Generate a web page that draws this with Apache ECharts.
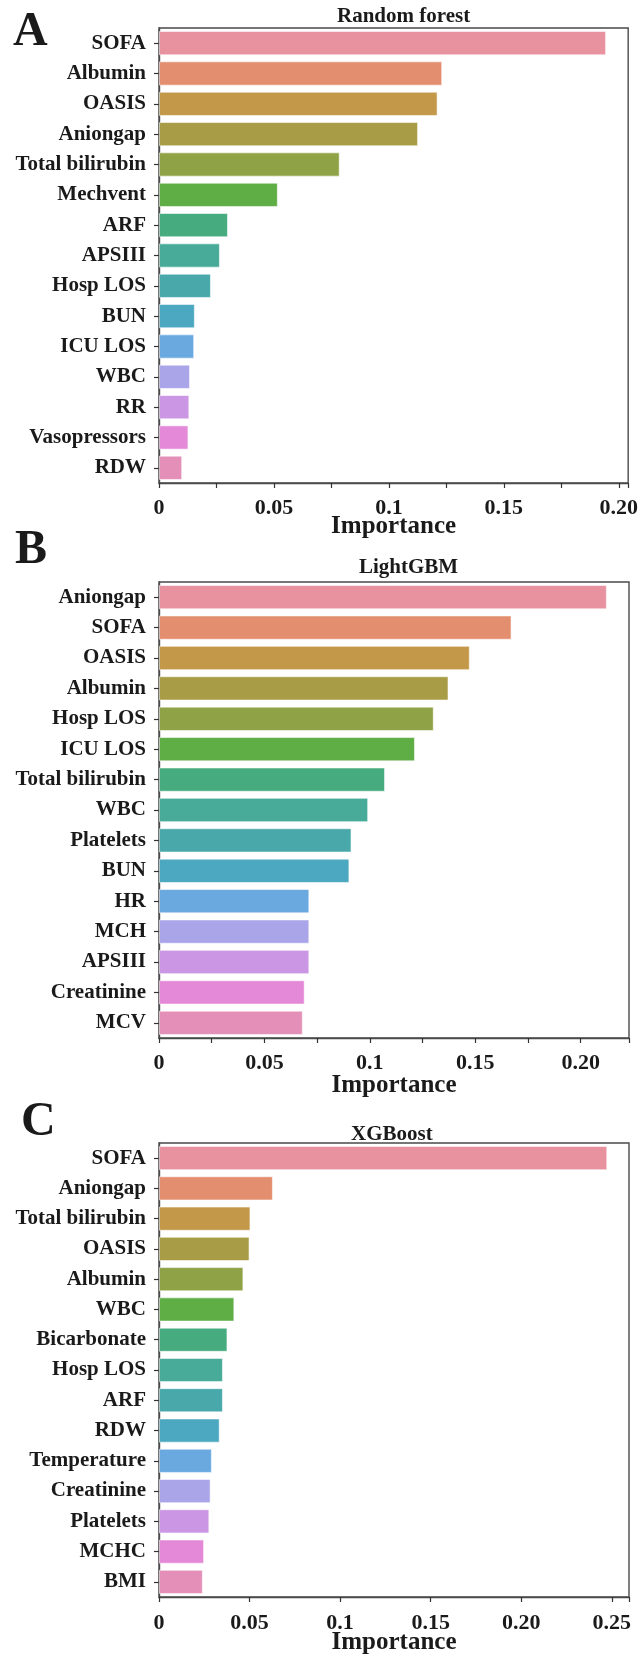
<!DOCTYPE html>
<html>
<head>
<meta charset="utf-8">
<script src="https://cdn.jsdelivr.net/npm/echarts@6/dist/echarts.min.js"></script>
<style>
html,body{margin:0;padding:0;background:#fff;}
#chart{width:641px;height:1656px;}
</style>
</head>
<body>
<div id="chart"></div>
<script>
// ---- Data ----
const catsA = ['SOFA','Albumin','OASIS','Aniongap','Total bilirubin','Mechvent','ARF','APSIII','Hosp LOS','BUN','ICU LOS','WBC','RR','Vasopressors','RDW'];
const valsA = [0.1945,0.1232,0.1212,0.1127,0.0786,0.0517,0.0300,0.0265,0.0226,0.0156,0.0153,0.0135,0.0132,0.0128,0.0101];

const catsB = ['Aniongap','SOFA','OASIS','Albumin','Hosp LOS','ICU LOS','Total bilirubin','WBC','Platelets','BUN','HR','MCH','APSIII','Creatinine','MCV'];
const valsB = [0.2124,0.1672,0.1474,0.1373,0.1303,0.1214,0.1072,0.0992,0.0913,0.0903,0.0713,0.0713,0.0713,0.0691,0.0682];

const catsC = ['SOFA','Aniongap','Total bilirubin','OASIS','Albumin','WBC','Bicarbonate','Hosp LOS','ARF','RDW','Temperature','Creatinine','Platelets','MCHC','BMI'];
const valsC = [0.2475,0.0629,0.0505,0.0500,0.0466,0.0416,0.0378,0.0353,0.0353,0.0335,0.0292,0.0285,0.0278,0.0249,0.0242];

const titles = ['Random forest','LightGBM','XGBoost'];
const panelLetters = ['A','B','C'];
const axisName = 'Importance';

const tickValsAB = [0,0.05,0.1,0.15,0.2];
const tickLabelsAB = ['0','0.05','0.1','0.15','0.20'];
const tickValsC = [0,0.05,0.1,0.15,0.2,0.25];
const tickLabelsC = ['0','0.05','0.1','0.15','0.20','0.25'];

const palette = ['#e8919f','#e38e6e','#c49849','#a99c47','#8fa245','#5fad45','#46ac80','#48aa98','#49a8aa','#4ba8c0','#6aa9e0','#aaa5e8','#cb97e4','#e488d8','#e48fb8'];

// ---- Layout ----
const FONT = "'Liberation Serif','Times New Roman',serif";
const panels = [
  {cats:catsA, vals:valsA, top:28, height:455, max:0.2041, interval:0.025, tv:tickValsAB, tl:tickLabelsAB, nameGap:31, labelMargin:14, titleLeft:337, titleTop:6, letterLeft:13, letterTop:9},
  {cats:catsB, vals:valsB, top:582, height:456, max:0.2229, interval:0.025, tv:tickValsAB, tl:tickLabelsAB, nameGap:35, labelMargin:14, titleLeft:359, titleTop:557, letterLeft:15, letterTop:527},
  {cats:catsC, vals:valsC, top:1143, height:457, max:0.2595, interval:0.05, tv:tickValsC, tl:tickLabelsC, nameGap:33, labelMargin:15, titleLeft:351, titleTop:1124, letterLeft:21, letterTop:1099}
];

function fmt(tv, tl){
  return function(v){
    for (let i=0;i<tv.length;i++){ if (Math.abs(v-tv[i])<1e-9) return tl[i]; }
    return '';
  };
}

const grid=[], xAxis=[], yAxis=[], series=[], title=[];
panels.forEach((p,i)=>{
  grid.push({left:159, right:12, top:p.top, height:p.height, show:true, borderColor:'#4a4a4a', borderWidth:1.4, backgroundColor:'transparent', containLabel:false});
  xAxis.push({
    type:'value', gridIndex:i, min:0, max:p.max, interval:p.interval,
    name:axisName, nameLocation:'middle', nameGap:p.nameGap, nameMoveOverlap:false,
    nameTextStyle:{fontFamily:FONT, fontWeight:'bold', fontSize:25, color:'#1a1a1a', verticalAlign:'top'},
    axisLine:{show:true, lineStyle:{color:'#4a4a4a', width:1.4}},
    axisTick:{show:true, length:5, lineStyle:{color:'#333', width:1.2}},
    axisLabel:{formatter:fmt(p.tv,p.tl), margin:p.labelMargin, fontFamily:FONT, fontWeight:'bold', fontSize:22, color:'#1a1a1a', showMaxLabel:true},
    splitLine:{show:false}
  });
  yAxis.push({
    type:'category', gridIndex:i, data:p.cats, inverse:true,
    axisLine:{show:true, lineStyle:{color:'#4a4a4a', width:1.4}},
    axisTick:{show:true, alignWithLabel:true, length:5, lineStyle:{color:'#333', width:1.2}},
    axisLabel:{margin:13, fontFamily:FONT, fontWeight:'bold', fontSize:21, color:'#1a1a1a'}
  });
  series.push({
    type:'bar', xAxisIndex:i, yAxisIndex:i, barCategoryGap:'20%',
    data:p.vals.map((v,k)=>({value:v, itemStyle:{color:palette[k % palette.length]}})),
    itemStyle:{borderColor:'rgba(255,255,255,0.55)', borderWidth:1},
    silent:true, animation:false
  });
  title.push({text:titles[i], left:p.titleLeft, top:p.titleTop, padding:0,
    textStyle:{fontFamily:FONT, fontWeight:'bold', fontSize:21, color:'#1a1a1a'}});
  title.push({text:panelLetters[i], left:p.letterLeft, top:p.letterTop, padding:0,
    textStyle:{fontFamily:FONT, fontWeight:'bold', fontSize:48, color:'#1a1a1a'}});
});

const chart = echarts.init(document.getElementById('chart'), null, {renderer:'canvas'});
chart.setOption({animation:false, backgroundColor:'#fff', title, grid, xAxis, yAxis, series});
</script>
</body>
</html>
